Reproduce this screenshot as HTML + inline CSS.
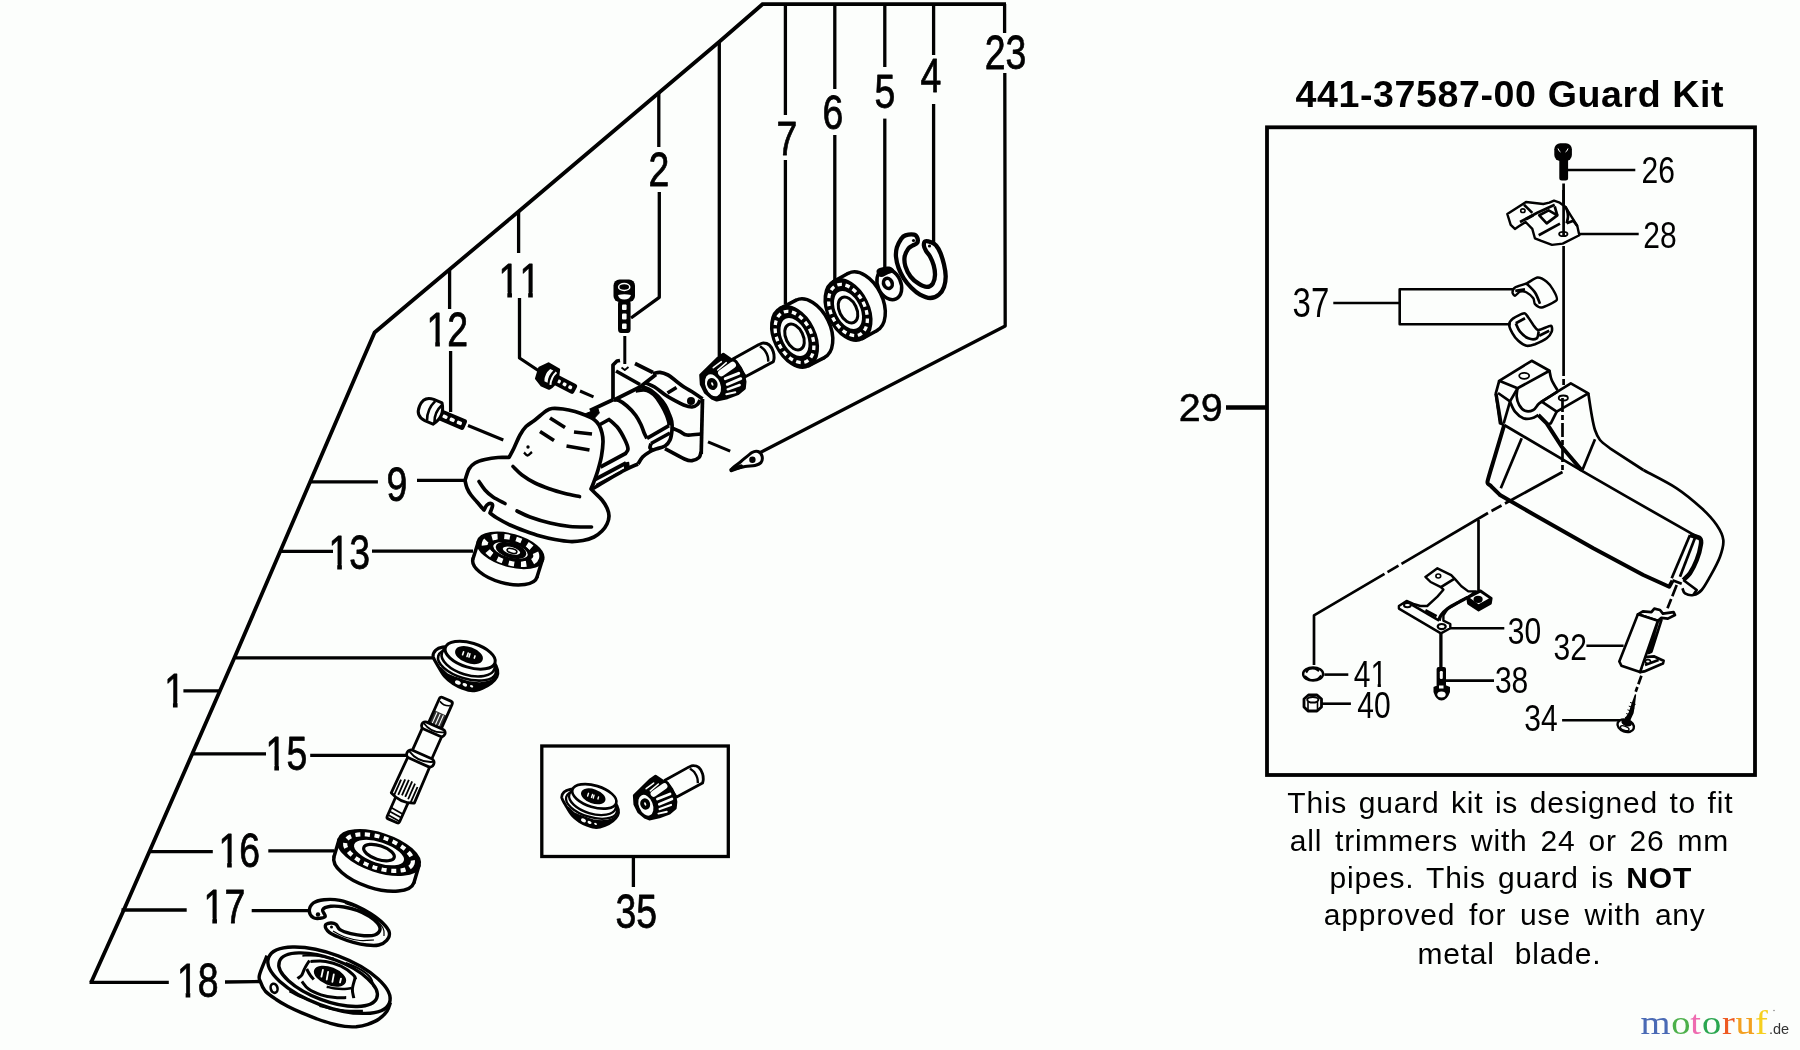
<!DOCTYPE html>
<html><head><meta charset="utf-8"><title>Guard Kit parts diagram</title>
<style>html,body{margin:0;padding:0;background:#fcfefc}svg{display:block;will-change:transform;opacity:0.9999}</style></head>
<body><svg width="1800" height="1050" viewBox="0 0 1800 1050" stroke-linecap="butt" stroke-linejoin="round">
<rect width="1800" height="1050" fill="#fcfefc"/>
<path d="M91.2 982.3 L124 909.5 L234.3 658 L362.6 360 L374.6 332.5 L413.7 299.5 L518.6 211.5 L658.6 93 L719 42 L762.5 4.2 L1006 4.2" fill="none" stroke="#000" stroke-width="3.8" stroke-linejoin="miter"/>
<line x1="89.5" y1="982.3" x2="168.8" y2="982.3" stroke="#000" stroke-width="3.3" />
<line x1="1004.6" y1="4" x2="1004.6" y2="33" stroke="#000" stroke-width="3.3" />
<path d="M1004.8 73 L1005.2 326 L760.4 452.4" fill="none" stroke="#000" stroke-width="3.3" />
<line x1="785.4" y1="4" x2="785.4" y2="115" stroke="#000" stroke-width="3.3" />
<line x1="785.4" y1="160" x2="785.4" y2="304" stroke="#000" stroke-width="3.3" />
<line x1="834.8" y1="4" x2="834.8" y2="89" stroke="#000" stroke-width="3.3" />
<line x1="834.8" y1="135" x2="834.8" y2="280" stroke="#000" stroke-width="3.3" />
<line x1="884.8" y1="4" x2="884.8" y2="67" stroke="#000" stroke-width="3.3" />
<line x1="884.8" y1="118.6" x2="884.8" y2="270" stroke="#000" stroke-width="3.3" />
<line x1="933.6" y1="4" x2="933.6" y2="55" stroke="#000" stroke-width="3.3" />
<line x1="933.6" y1="104" x2="933.6" y2="244" stroke="#000" stroke-width="3.3" />
<line x1="719.3" y1="42" x2="719.3" y2="356" stroke="#000" stroke-width="3.3" />
<line x1="658.8" y1="92" x2="658.8" y2="147" stroke="#000" stroke-width="3.3" />
<path d="M659.3 192 L659.3 297.3 L631 318" fill="none" stroke="#000" stroke-width="3.3" />
<line x1="518.6" y1="211" x2="518.6" y2="253" stroke="#000" stroke-width="3.3" />
<path d="M519.5 298 L519.5 358 L539 371" fill="none" stroke="#000" stroke-width="3.3" />
<line x1="449.6" y1="269" x2="449.6" y2="309" stroke="#000" stroke-width="3.3" />
<line x1="450.6" y1="351" x2="450.6" y2="412" stroke="#000" stroke-width="3.3" />
<line x1="310.7" y1="481.9" x2="377.9" y2="481.9" stroke="#000" stroke-width="3.3" />
<line x1="417" y1="480.4" x2="465" y2="480.4" stroke="#000" stroke-width="3.3" />
<line x1="280" y1="551.4" x2="333" y2="551.4" stroke="#000" stroke-width="3.3" />
<line x1="372" y1="551.2" x2="473" y2="551.2" stroke="#000" stroke-width="3.3" />
<line x1="235.5" y1="657.8" x2="433.5" y2="657.8" stroke="#000" stroke-width="3.3" />
<line x1="183.4" y1="690.9" x2="219" y2="690.9" stroke="#000" stroke-width="3.3" />
<line x1="192.5" y1="753.8" x2="266" y2="753.8" stroke="#000" stroke-width="3.3" />
<line x1="310.2" y1="755.3" x2="406.6" y2="755.3" stroke="#000" stroke-width="3.3" />
<line x1="148.5" y1="851.6" x2="212.8" y2="851.6" stroke="#000" stroke-width="3.3" />
<line x1="268.3" y1="850.8" x2="334.3" y2="850.8" stroke="#000" stroke-width="3.3" />
<line x1="121.5" y1="910" x2="186.7" y2="910" stroke="#000" stroke-width="3.3" />
<line x1="251.7" y1="910.7" x2="310" y2="910.7" stroke="#000" stroke-width="3.3" />
<line x1="225" y1="982" x2="260" y2="981.5" stroke="#000" stroke-width="3.3" />
<rect x="541.8" y="746" width="186.5" height="110.5" fill="none" stroke="#000" stroke-width="3.3" stroke-linejoin="miter"/>
<line x1="633.4" y1="857" x2="633.4" y2="887" stroke="#000" stroke-width="3.3" />
<ellipse cx="810" cy="329" rx="20" ry="32" transform="rotate(-26 810 329)" fill="#fcfefc" stroke="#000" stroke-width="3.5" />
<path d="M808.8 365.6 L824.3 357.6 L795.7 300.4 L780.2 308.4Z" fill="#fcfefc" stroke="none"/>
<line x1="808.8" y1="365.6" x2="824.3" y2="357.6" stroke="#000" stroke-width="3.5" stroke-linecap="round"/>
<line x1="780.2" y1="308.4" x2="795.7" y2="300.4" stroke="#000" stroke-width="3.5" stroke-linecap="round"/>
<ellipse cx="794.5" cy="337" rx="20" ry="32" transform="rotate(-26 794.5 337)" fill="#000" stroke="#000" stroke-width="3.5" />
<ellipse cx="794.5" cy="337" rx="17" ry="27.2" transform="rotate(-26 794.5 337)" fill="none" stroke="#fcfefc" stroke-width="3.3" stroke-dasharray="4.6 3.6" stroke-linecap="butt"/>
<ellipse cx="794.5" cy="337" rx="13.6" ry="21.8" transform="rotate(-26 794.5 337)" fill="#fcfefc" stroke="#000" stroke-width="3" />
<ellipse cx="794.5" cy="337" rx="8.6" ry="13.8" transform="rotate(-26 794.5 337)" fill="#fcfefc" stroke="#000" stroke-width="3" />
<ellipse cx="862.5" cy="302" rx="20" ry="32" transform="rotate(-26 862.5 302)" fill="#fcfefc" stroke="#000" stroke-width="3.5" />
<path d="M862.6 338.5 L877.1 330.5 L847.9 273.5 L833.4 281.5Z" fill="#fcfefc" stroke="none"/>
<line x1="862.6" y1="338.5" x2="877.1" y2="330.5" stroke="#000" stroke-width="3.5" stroke-linecap="round"/>
<line x1="833.4" y1="281.5" x2="847.9" y2="273.5" stroke="#000" stroke-width="3.5" stroke-linecap="round"/>
<ellipse cx="848" cy="310" rx="20" ry="32" transform="rotate(-26 848 310)" fill="#000" stroke="#000" stroke-width="3.5" />
<ellipse cx="848" cy="310" rx="17" ry="27.2" transform="rotate(-26 848 310)" fill="none" stroke="#fcfefc" stroke-width="3.3" stroke-dasharray="4.6 3.6" stroke-linecap="butt"/>
<ellipse cx="848" cy="310" rx="13.6" ry="21.8" transform="rotate(-26 848 310)" fill="#fcfefc" stroke="#000" stroke-width="3" />
<ellipse cx="848" cy="310" rx="8.6" ry="13.8" transform="rotate(-26 848 310)" fill="#fcfefc" stroke="#000" stroke-width="3" />
<ellipse cx="505" cy="567.9" rx="33.3" ry="15" transform="rotate(15.7 505 567.9)" fill="#fcfefc" stroke="#000" stroke-width="3.5" />
<path d="M542.5 559.6 L537 577.1 L473 558.7 L478.5 541.2Z" fill="#fcfefc" stroke="none"/>
<line x1="542.5" y1="559.6" x2="537" y2="577.1" stroke="#000" stroke-width="3.5" stroke-linecap="round"/>
<line x1="478.5" y1="541.2" x2="473" y2="558.7" stroke="#000" stroke-width="3.5" stroke-linecap="round"/>
<ellipse cx="510.5" cy="550.4" rx="33.3" ry="15" transform="rotate(15.7 510.5 550.4)" fill="#000" stroke="#000" stroke-width="3.5" />
<ellipse cx="510.5" cy="550.4" rx="26.6" ry="12" transform="rotate(15.7 510.5 550.4)" fill="none" stroke="#fcfefc" stroke-width="6" stroke-dasharray="5.5 6.5" stroke-linecap="butt"/>
<ellipse cx="510.5" cy="550.4" rx="19.3" ry="8.7" transform="rotate(15.7 510.5 550.4)" fill="#fcfefc" stroke="#000" stroke-width="3" />
<ellipse cx="510.5" cy="550.4" rx="11.3" ry="5.1" transform="rotate(15.7 510.5 550.4)" fill="#fcfefc" stroke="#000" stroke-width="3" />
<ellipse cx="511" cy="550.4" rx="14.7" ry="6.6" transform="rotate(15.7 511 550.4)" fill="#000" stroke="#000" stroke-width="2" />
<ellipse cx="511.5" cy="550.7" rx="9.7" ry="4.3" transform="rotate(15.7 511.5 550.7)" fill="#fcfefc" stroke="#000" stroke-width="1.5" />
<ellipse cx="512" cy="550.9" rx="5" ry="2.2" transform="rotate(15.7 512 550.9)" fill="#fcfefc" stroke="#000" stroke-width="1.6" />
<ellipse cx="374" cy="869.6" rx="42" ry="18.2" transform="rotate(18.2 374 869.6)" fill="#fcfefc" stroke="#000" stroke-width="3.5" />
<path d="M339 839.7 L334 856.7 L414 882.5 L419 865.5Z" fill="#fcfefc" stroke="none"/>
<line x1="339" y1="839.7" x2="334" y2="856.7" stroke="#000" stroke-width="3.5" stroke-linecap="round"/>
<line x1="419" y1="865.5" x2="414" y2="882.5" stroke="#000" stroke-width="3.5" stroke-linecap="round"/>
<ellipse cx="379" cy="852.6" rx="42" ry="18.2" transform="rotate(18.2 379 852.6)" fill="#000" stroke="#000" stroke-width="3.5" />
<ellipse cx="379" cy="852.6" rx="35.3" ry="15.3" transform="rotate(18.2 379 852.6)" fill="none" stroke="#fcfefc" stroke-width="4.2" stroke-dasharray="5 4.5" stroke-linecap="butt"/>
<ellipse cx="379" cy="852.6" rx="27.7" ry="12" transform="rotate(18.2 379 852.6)" fill="#fcfefc" stroke="#000" stroke-width="3.2" />
<ellipse cx="379" cy="852.6" rx="16" ry="6.9" transform="rotate(18.2 379 852.6)" fill="#fcfefc" stroke="#000" stroke-width="3.2" />
<path d="M905.4 235.4 C907.5 234.7 912 234.2 914 234.6 C916 235 916.9 236.6 917.4 238 C917.9 239.4 917.9 241.8 917 243.1 C916.1 244.4 913.8 244.7 912.3 245.7 C910.8 246.7 909.3 247.2 908 249.1 C906.7 251 905 254 904.6 256.9 C904.2 259.8 904.4 263 905.4 266.3 C906.4 269.6 908.5 273.8 910.6 276.6 C912.8 279.5 915.6 281.7 918.3 283.4 C921 285.1 924.5 286.9 926.9 286.9 C929.3 286.9 931.5 285.4 932.9 283.4 C934.2 281.4 934.9 277.9 935 274.9 C935.1 271.9 934.5 268.4 933.7 265.4 C932.9 262.4 931.6 259.3 930.3 256.9 C929 254.5 927.1 252.8 926 250.9 C924.9 249 924 247.3 923.9 245.7 C923.8 244.1 923.9 242 925.1 241.4 C926.3 240.8 929.2 241.6 931.1 242.3 C933 243 934.7 243.8 936.3 245.7 C937.9 247.5 939.3 250.2 940.6 253.4 C941.9 256.6 943.1 260.7 944 264.6 C944.9 268.5 945.7 272.9 945.7 276.6 C945.7 280.3 945.1 283.9 944 286.9 C942.9 289.9 941.2 292.8 938.9 294.6 C936.6 296.5 933.4 298 930.3 298 C927.1 298 923.1 296.3 920 294.6 C916.9 292.9 914.1 290.4 911.4 287.7 C908.7 285 905.8 281.6 903.7 278.3 C901.6 275 899.9 271.6 898.6 268 C897.3 264.4 896.3 260.3 896 256.9 C895.7 253.5 896 250.4 896.9 247.4 C897.8 244.4 899.7 240.9 901.1 238.9 C902.5 236.9 903.2 236.1 905.4 235.4Z" fill="#fcfefc" stroke="#000" stroke-width="4.3" />
<circle cx="913.5" cy="240.5" r="1.6" fill="#000"/><circle cx="929.5" cy="246" r="1.6" fill="#000"/>
<ellipse cx="889.3" cy="284.3" rx="11.5" ry="16" transform="rotate(-25 889.3 284.3)" fill="#fcfefc" stroke="#000" stroke-width="3.5" />
<path d="M877.5 272 C877.3 270.8 878.1 269.8 880 269 C881.9 268.2 886.8 267.2 889 267.5 C891.2 267.8 893.7 270.1 893.5 271 C893.3 271.9 890.1 272.2 888 273 C885.9 273.8 882.8 276.2 881 276 C879.2 275.8 877.7 273.2 877.5 272Z" fill="#000" stroke="#000" stroke-width="2" />
<ellipse cx="887.9" cy="283.4" rx="4.2" ry="5.2" transform="rotate(-25 887.9 283.4)" fill="#fcfefc" stroke="#000" stroke-width="3.6" />
<g>
<path d="M733.3 358.7 L758 345 L758 345 C758.9 344.7 761.4 343.1 763.3 343.1 C765.2 343.1 767.7 343.6 769.3 345 C771 346.4 772.5 349.6 773.3 351.7 C774.1 353.8 774.1 356 774.1 357.7 C774.1 359.3 773.5 361 773.3 361.7 L745.3 376.7 Z" fill="#fcfefc" stroke="#000" stroke-width="3" />
<path d="M760 346.3 C760.8 347 763.4 348.7 764.7 350.3 C765.9 352 767.1 354.4 767.7 356.3 C768.3 358.2 768.2 360.8 768.3 361.7" fill="none" stroke="#000" stroke-width="2.5" />
<path d="M700.7 375 L718 358 L723.3 354.3 L731.3 359.7 L736 361.7 L740.7 368.3 L743.7 375 L745 381.7 L744.3 388.3 L738 393.7 L727.3 397.7 L716.7 400 L712 398 L705.3 392.3 L701.3 384.3Z" fill="#000" stroke="#000" stroke-width="3" stroke-linejoin="round"/>
<line x1="713.3" y1="367.7" x2="721.3" y2="361.7" stroke="#fcfefc" stroke-width="1.6" stroke-linecap="round"/>
<line x1="717.7" y1="370" x2="726.3" y2="362.7" stroke="#fcfefc" stroke-width="1.6" stroke-linecap="round"/>
<line x1="721.3" y1="373" x2="732.7" y2="365" stroke="#fcfefc" stroke-width="6.5" stroke-linecap="round"/>
<line x1="725.3" y1="378.7" x2="738.7" y2="373.3" stroke="#fcfefc" stroke-width="3" stroke-linecap="round"/>
<line x1="727.3" y1="384.3" x2="740.7" y2="378.7" stroke="#fcfefc" stroke-width="3" stroke-linecap="round"/>
<line x1="727.7" y1="389.3" x2="739.7" y2="385" stroke="#fcfefc" stroke-width="2.4" stroke-linecap="round"/>
<line x1="726.3" y1="394.2" x2="735.3" y2="392.2" stroke="#fcfefc" stroke-width="2" stroke-linecap="round"/>
<ellipse cx="713" cy="385.3" rx="8.6" ry="12.8" transform="rotate(-22 713 385.3)" fill="#fcfefc" stroke="#000" stroke-width="2.5" />
<ellipse cx="712.3" cy="384" rx="3.1" ry="4" transform="rotate(-22 712.3 384)" fill="#fcfefc" stroke="#000" stroke-width="4.2" />
</g>
<path d="M732 469 C731.3 468.2 737.7 464.2 741 461.5 C744.3 458.8 749.2 454.2 752 452.5 C754.8 450.8 756.3 450.9 758 451.5 C759.7 452.1 761.5 454.2 762 456 C762.5 457.8 762.2 460.9 761 462.5 C759.8 464.1 757.7 464.8 755 465.5 C752.3 466.2 748.8 465.9 745 466.5 C741.2 467.1 732.7 469.8 732 469Z" fill="#fcfefc" stroke="#000" stroke-width="3" />
<path d="M731.5 470 L741 466.5" fill="none" stroke="#000" stroke-width="4.5" stroke-linecap="round"/>
<circle cx="752.4" cy="459.8" r="3.2" fill="#000"/>
<g transform="translate(421 406.5) rotate(23.1)">
<rect x="20" y="-5.6" width="28.4" height="11.2" rx="2.5" fill="#000"/>
<rect x="23.5" y="-1.8" width="5.2" height="3.6" rx="1.2" fill="#fcfefc"/>
<rect x="31.3" y="-1.8" width="5.2" height="3.6" rx="1.2" fill="#fcfefc"/>
<rect x="39.1" y="-1.8" width="5.2" height="3.6" rx="1.2" fill="#fcfefc"/>
<path d="M9 -11.5 Q-1.5 -11 -1.5 0 Q-1.5 11 9 11.5 L18 11.5 Q22 6 22 0 Q22 -6 18 -11.5Z" fill="#fcfefc" stroke="#000" stroke-width="3"/>
<path d="M11 -10.5 Q6.5 0 11 10.5" fill="none" stroke="#000" stroke-width="2.6"/>
<path d="M18.5 -9 Q14.5 0 18.5 9" fill="none" stroke="#000" stroke-width="2.6"/>
</g>
<line x1="468" y1="425.5" x2="503.3" y2="440" stroke="#000" stroke-width="3" />
<g transform="translate(539 371) rotate(27.5)">
<rect x="17" y="-5.4" width="24.1" height="10.8" rx="2.5" fill="#000"/>
<rect x="20.5" y="-1.8" width="3.8" height="3.6" rx="1.2" fill="#fcfefc"/>
<rect x="26.9" y="-1.8" width="3.8" height="3.6" rx="1.2" fill="#fcfefc"/>
<rect x="33.3" y="-1.8" width="3.8" height="3.6" rx="1.2" fill="#fcfefc"/>
<path d="M5 -11 L-1 -3 L1 8 L9 11.5 L17 11 Q21 5 20 -2 L17 -10.5 Z" fill="#000" stroke="#000" stroke-width="2.5"/>
<path d="M9 -7 Q6 0 9.5 6.5 L13 6.5 Q10 0 12.5 -7Z" fill="#fcfefc"/>
<path d="M16 -7 Q13.5 0 16.5 7" fill="none" stroke="#fcfefc" stroke-width="2"/>
</g>
<line x1="580" y1="391" x2="593.5" y2="396.8" stroke="#000" stroke-width="3" />
<g transform="translate(-24.361999999999853 443.058) scale(0.94)">
<g>
<path d="M733.3 358.7 L758 345 L758 345 C758.9 344.7 761.4 343.1 763.3 343.1 C765.2 343.1 767.7 343.6 769.3 345 C771 346.4 772.5 349.6 773.3 351.7 C774.1 353.8 774.1 356 774.1 357.7 C774.1 359.3 773.5 361 773.3 361.7 L745.3 376.7 Z" fill="#fcfefc" stroke="#000" stroke-width="3" />
<path d="M760 346.3 C760.8 347 763.4 348.7 764.7 350.3 C765.9 352 767.1 354.4 767.7 356.3 C768.3 358.2 768.2 360.8 768.3 361.7" fill="none" stroke="#000" stroke-width="2.5" />
<path d="M700.7 375 L718 358 L723.3 354.3 L731.3 359.7 L736 361.7 L740.7 368.3 L743.7 375 L745 381.7 L744.3 388.3 L738 393.7 L727.3 397.7 L716.7 400 L712 398 L705.3 392.3 L701.3 384.3Z" fill="#000" stroke="#000" stroke-width="3" stroke-linejoin="round"/>
<line x1="713.3" y1="367.7" x2="721.3" y2="361.7" stroke="#fcfefc" stroke-width="1.6" stroke-linecap="round"/>
<line x1="717.7" y1="370" x2="726.3" y2="362.7" stroke="#fcfefc" stroke-width="1.6" stroke-linecap="round"/>
<line x1="721.3" y1="373" x2="732.7" y2="365" stroke="#fcfefc" stroke-width="6.5" stroke-linecap="round"/>
<line x1="725.3" y1="378.7" x2="738.7" y2="373.3" stroke="#fcfefc" stroke-width="3" stroke-linecap="round"/>
<line x1="727.3" y1="384.3" x2="740.7" y2="378.7" stroke="#fcfefc" stroke-width="3" stroke-linecap="round"/>
<line x1="727.7" y1="389.3" x2="739.7" y2="385" stroke="#fcfefc" stroke-width="2.4" stroke-linecap="round"/>
<line x1="726.3" y1="394.2" x2="735.3" y2="392.2" stroke="#fcfefc" stroke-width="2" stroke-linecap="round"/>
<ellipse cx="713" cy="385.3" rx="8.6" ry="12.8" transform="rotate(-22 713 385.3)" fill="#fcfefc" stroke="#000" stroke-width="2.5" />
<ellipse cx="712.3" cy="384" rx="3.1" ry="4" transform="rotate(-22 712.3 384)" fill="#fcfefc" stroke="#000" stroke-width="4.2" />
</g>
</g>
<path d="M613 365 L617 361 L620 360.5 L653 373 L660 372.5 L668 375 L676 381 L684 387 L694 393 L702.5 399 L701 454 L699 459 L690 461 L683 460 L662 450 L640 440 L613 400Z" fill="#fcfefc" stroke="none" stroke-width="0" />
<path d="M620 360.5 L617 361 L613 365 L613 399.5" fill="none" stroke="#000" stroke-width="3.7" />
<path d="M616 371 L640 384.5" fill="none" stroke="#000" stroke-width="3.7" />
<path d="M614 400 L640 387 L656 374.5" fill="none" stroke="#000" stroke-width="3.7" />
<path d="M635 363.5 L653 372.5" fill="none" stroke="#000" stroke-width="3.7" />
<path d="M653 373.5 C654.2 373.3 657.5 372.1 660 372.3 C662.5 372.6 665.3 373.6 668 375 C670.7 376.4 673.3 379 676 381 C678.7 383 681 385 684 387 C687 389 690.9 391 694 393 C697.1 395 701.1 398 702.5 399" fill="none" stroke="#000" stroke-width="3.7" />
<path d="M702.5 399 L701.2 454" fill="none" stroke="#000" stroke-width="3.7" />
<path d="M646 383 C647.4 383.7 651.4 385.1 654.6 387 C657.8 388.9 661.6 392.4 665 394.7 C668.4 397 671.9 399 675 400.7 C678.1 402.4 680.9 403.9 683.7 405 C686.5 406.1 689.7 407.1 692 407 C694.3 406.9 696.1 405.7 697.4 404.5 C698.7 403.3 699.6 400.8 700 400" fill="none" stroke="#000" stroke-width="3.7" />
<path d="M667.5 393 L676.5 387.5" fill="none" stroke="#000" stroke-width="3.7" />
<circle cx="691" cy="401" r="4" fill="#000"/>
<path d="M665 448.7 C668.2 450.4 680 457 684.5 459 C689 461 689.6 460.9 692 460.7 C694.4 460.4 697.5 458.9 699 457.5 C700.5 456.1 700.7 452.9 701 452" fill="none" stroke="#000" stroke-width="3.7" />
<path d="M671.7 428 C673.1 428.6 677.5 430.3 680 431.5 C682.5 432.7 683.5 434.6 687 435 C690.5 435.4 698.7 434.2 701 434" fill="none" stroke="#000" stroke-width="3.7" />
<path d="M614 400 C614.8 400.1 616.4 399.3 618.6 400.3 C620.8 401.3 624.1 403.5 627 406 C629.9 408.5 633.4 412.2 635.7 415.3 C638 418.4 639.6 421.7 641 424.7 C642.4 427.7 643.3 431 644.3 433.3 C645.3 435.6 646.5 437.5 647 438.4" fill="none" stroke="#000" stroke-width="3.7" />
<path d="M647 438.4 L669 425.6" fill="none" stroke="#000" stroke-width="3.7" />
<path d="M635.7 391 C637.1 390.8 641.6 389.8 644 390 C646.4 390.2 648 390.8 650 392 C652 393.2 654 394.7 656 397 C658 399.3 660.2 403 662 406 C663.8 409 665.4 412.4 666.5 415 C667.6 417.6 668.2 419.9 668.7 421.7 C669.2 423.5 669.1 425 669.2 425.6" fill="none" stroke="#000" stroke-width="3.7" />
<path d="M640 386.5 C641 386.8 644.2 387.4 646 388 C647.8 388.6 649 389 651 390.4 C653 391.8 655.7 394 658 396.4 C660.3 398.8 663.2 402.1 665 405 C666.8 407.9 667.9 410.9 669 413.6 C670.1 416.3 671.2 418.6 671.7 421.3 C672.2 424 672.3 426.9 672 430 C671.7 433.1 671.2 437.3 670 440 C668.8 442.7 667.6 444.4 665 446 C662.4 447.6 657.2 448.5 654.6 449.5 C652 450.5 651.4 450.8 649.4 452 C647.4 453.2 644.5 455 642.6 457 C640.7 459 638.8 462.8 638 464" fill="none" stroke="#000" stroke-width="3.7" />
<path d="M651 443.5 L670 433" fill="none" stroke="#000" stroke-width="3.7" />
<path d="M651 443.5 C650.8 444.2 649.7 446.9 650 448 C650.3 449.1 652.5 449.7 653 450" fill="none" stroke="#000" stroke-width="3.7" />
<path d="M595 479.5 L626 463" fill="none" stroke="#000" stroke-width="3.7" />
<path d="M593 488.5 C598.2 485.5 616.5 474.6 624 470.5 C631.5 466.4 635.7 465.1 638 464" fill="none" stroke="#000" stroke-width="3.7" />
<path d="M596 484.5 L624 469.5" fill="none" stroke="#000" stroke-width="1.2" />
<path d="M624 463.5 L628.5 462.5 L629 467 L625 469Z" fill="#000" stroke="#000" stroke-width="1.5" />
<path d="M590 410.5 L613.5 399.5" fill="none" stroke="#000" stroke-width="3.7" />
<path d="M600 424.5 L609 419.5 609 419.5 C610.5 420.9 615.3 424.6 618 428 C620.7 431.4 623.3 436.5 625 440 C626.7 443.5 627.9 446.8 628 449 C628.1 451.2 625.9 452.8 625.5 453.5 L600.5 467" fill="none" stroke="#000" stroke-width="3.7" />
<path d="M465 480.5 C465.7 478.6 467.3 471.9 469 469 C470.7 466.1 472.3 464.6 475 463 C477.7 461.4 481.2 460.4 485 459.5 C488.8 458.6 494 457.8 498 457.5 C502 457.2 507.2 457.5 509 457.5 C509.8 455.9 512.2 451.8 514 448 C515.8 444.2 518 438.6 520 435 C522 431.4 523.5 429 526 426.5 C528.5 424 531.7 422.6 535 420 C538.3 417.4 543.2 412.9 546 411 C548.8 409.1 549.2 408.8 552 408.5 C554.8 408.2 559.2 408.5 563 409 C566.8 409.5 571.3 410.5 575 411.5 C578.7 412.5 581.8 413.7 585 415 C588.2 416.3 591.7 417.8 594 419.5 C596.3 421.2 597.7 422.8 599 425 C600.3 427.2 601.3 430.2 602 433 C602.7 435.8 603.1 438.2 603 442 C602.9 445.8 602.3 451.3 601.5 456 C600.7 460.7 599.3 465.5 598 470 C596.7 474.5 594.7 479.8 593.5 483 C592.3 486.2 591.4 488 591 489 C591.7 489.7 593.2 491.2 595 493 C596.8 494.8 600 497.5 602 500 C604 502.5 605.8 505.3 607 508 C608.2 510.7 609 513.3 609 516 C609 518.7 608.2 521.5 607 524 C605.8 526.5 604.2 528.8 602 531 C599.8 533.2 597.2 535.4 594 537 C590.8 538.6 587 539.8 583 540.5 C579 541.2 574.7 541.7 570 541.5 C565.3 541.3 560 540.4 555 539.5 C550 538.6 545 537.4 540 536 C535 534.6 530 532.8 525 531 C520 529.2 514.7 527.2 510 525 C505.3 522.8 500.3 520 497 518 C493.7 516 491.2 513.8 490 513 C490.4 511.8 492.3 507.6 492.5 506 C492.7 504.4 491.9 503.7 491 503.5 C490.1 503.3 488.2 503.9 487 505 C485.8 506.1 484.5 509.2 484 510 C482.8 508.7 479.2 504.5 477 502 C474.8 499.5 472.7 497.3 471 495 C469.3 492.7 468 490.4 467 488 C466 485.6 465.3 481.8 465 480.5Z" fill="#fcfefc" stroke="#000" stroke-width="3.7" />
<path d="M513 466.5 C514.5 467.9 518.3 472.2 522 475 C525.7 477.8 530.3 480.7 535 483 C539.7 485.3 545 487.2 550 489 C555 490.8 560.1 492.2 565 493.5 C569.9 494.8 577.1 496 579.5 496.5" fill="none" stroke="#000" stroke-width="3.7" stroke-linecap="round"/>
<path d="M479 481.5 C480 482.9 482.7 487.4 485 490 C487.3 492.6 489.7 494.8 493 497 C496.3 499.2 503 502.4 505 503.5" fill="none" stroke="#000" stroke-width="3.7" stroke-linecap="round"/>
<path d="M517 511 C519.2 512 524.5 515 530 517 C535.5 519 543.3 521.4 550 523 C556.7 524.6 563.1 525.8 570 526.5 C576.9 527.2 587.9 526.9 591.5 527" fill="none" stroke="#000" stroke-width="3.7" stroke-linecap="round"/>
<path d="M550 418 L565 427.5" fill="none" stroke="#000" stroke-width="3.7" />
<path d="M540 431.5 L554 440.5" fill="none" stroke="#000" stroke-width="3.7" />
<path d="M574 432 L592 434" fill="none" stroke="#000" stroke-width="3.7" />
<path d="M566.5 446 L589.5 450" fill="none" stroke="#000" stroke-width="3.7" />
<path d="M524 452.5 C524.6 453 526.2 455.6 527.5 455.5 C528.8 455.4 531.2 452.6 532 452" fill="none" stroke="#000" stroke-width="2.4" />
<circle cx="528" cy="447" r="1.7" fill="#000"/>
<path d="M584 414.3 L598 408.7 L599.3 413 L594 418.7Z" fill="#000" stroke="#000" stroke-width="1" />
<line x1="708" y1="441.8" x2="730.2" y2="451.1" stroke="#000" stroke-width="3" />
<rect x="613.5" y="279.5" width="21.5" height="22.5" rx="6" ry="6" fill="#000"/>
<ellipse cx="624.2" cy="287" rx="5.6" ry="3.5" transform="rotate(0 624.2 287)" fill="#000" stroke="#fcfefc" stroke-width="1.5" />
<path d="M618 295 Q624.3 293.5 631 295 Q629.5 299.5 624.3 299.5 Q619 299.5 618 295Z" fill="#fcfefc" stroke="none" stroke-width="0" />
<rect x="618" y="300" width="12.6" height="33" rx="3" ry="4" fill="#000"/>
<rect x="622" y="304.5" width="4.6" height="5.5" rx="1" fill="#fcfefc"/>
<rect x="622" y="313.5" width="4.6" height="6" rx="1" fill="#fcfefc"/>
<rect x="622" y="323.5" width="4.6" height="5.5" rx="1" fill="#fcfefc"/>
<line x1="624.8" y1="336" x2="624.8" y2="364" stroke="#000" stroke-width="3" />
<path d="M621.5 367.5 L624.8 370 L628.5 367" fill="none" stroke="#000" stroke-width="1.8" />
<path d="M433.1 656.2 C432.8 653.6 434.2 651.7 435.8 650.1 C437.4 648.6 439.7 647.7 442.7 647.1 C445.6 646.5 449 646.1 453.3 646.3 C457.7 646.6 463.5 647.2 468.6 648.6 C473.7 650 479.6 652.4 483.8 654.7 C488 657 491.4 659.8 493.7 662.3 C496 664.9 497 667.5 497.5 670 C498 672.4 497.8 674.7 496.8 676.8 C495.7 679 493.8 681 491.4 682.9 C489 684.8 485.5 686.9 482.3 688.2 C479.1 689.5 475.7 690.7 472.4 690.7 C469.1 690.7 465.7 689.4 462.5 688.2 C459.3 687.1 456.3 685.6 453.3 683.7 C450.4 681.8 447.5 679.7 445 676.8 C442.4 673.9 440.1 669.6 438.1 666.1 C436.1 662.7 433.5 658.9 433.1 656.2Z" fill="#fcfefc" stroke="#000" stroke-width="3.2" />
<path d="M440.4 667.7 C440.8 667.2 444.3 672 447.2 673.8 C450.2 675.5 454.3 677 457.9 678.3 C461.5 679.7 464.9 681 468.6 681.8 C472.3 682.5 476.4 683 480 682.9 C483.6 682.8 487.2 682 489.9 681 C492.6 680 496.1 676.5 496.4 676.8 C496.6 677.1 493.8 681 491.4 682.9 C489.1 684.8 485.5 686.9 482.3 688.2 C479.1 689.5 475.7 690.7 472.4 690.7 C469.1 690.7 465.7 689.4 462.5 688.2 C459.3 687.1 456.3 685.6 453.3 683.7 C450.4 681.8 447.1 679.5 445 676.8 C442.8 674.1 440 668.2 440.4 667.7Z" fill="#000" stroke="#000" stroke-width="1.5" />
<ellipse cx="457.9" cy="682.5" rx="3" ry="2" transform="rotate(25 457.9 682.5)" fill="#fcfefc" stroke="none" stroke-width="0" />
<ellipse cx="464.8" cy="684.8" rx="2.4" ry="1.6" transform="rotate(25 464.8 684.8)" fill="#fcfefc" stroke="none" stroke-width="0" />
<ellipse cx="471.6" cy="686.3" rx="1.7" ry="1.1" transform="rotate(25 471.6 686.3)" fill="#fcfefc" stroke="none" stroke-width="0" />
<ellipse cx="467" cy="664.6" rx="30" ry="14" transform="rotate(17 467 664.6)" fill="#fcfefc" stroke="#000" stroke-width="2.6" />
<ellipse cx="468.2" cy="660.8" rx="27.5" ry="14" transform="rotate(17 468.2 660.8)" fill="#fcfefc" stroke="#000" stroke-width="2.6" />
<ellipse cx="470.2" cy="655.2" rx="26" ry="12.2" transform="rotate(17 470.2 655.2)" fill="#fcfefc" stroke="#000" stroke-width="3" />
<ellipse cx="469" cy="655.1" rx="13.5" ry="7" transform="rotate(20 469 655.1)" fill="#000" stroke="#000" stroke-width="2" />
<line x1="463.6" y1="651.7" x2="462.6" y2="654.7" stroke="#fcfefc" stroke-width="1.6" stroke-linecap="round"/>
<line x1="468.2" y1="653" x2="467" y2="656.4" stroke="#fcfefc" stroke-width="1.6" stroke-linecap="round"/>
<line x1="469.9" y1="653.8" x2="469" y2="657" stroke="#fcfefc" stroke-width="1.6" stroke-linecap="round"/>
<line x1="475" y1="655.9" x2="474.3" y2="658.1" stroke="#fcfefc" stroke-width="1.6" stroke-linecap="round"/>
<g transform="translate(446.7 699.3) rotate(24)">
<rect x="-6.8" y="108" width="13.6" height="25" rx="2" fill="#fcfefc" stroke="#000" stroke-width="2.8"/>
<line x1="-6.8" y1="121.5" x2="6.8" y2="122.7" stroke="#000" stroke-width="1.7"/>
<line x1="-6.8" y1="125.5" x2="6.8" y2="126.7" stroke="#000" stroke-width="1.7"/>
<line x1="-6.8" y1="129.5" x2="6.8" y2="130.7" stroke="#000" stroke-width="1.7"/>
<path d="M-12 68 L-12.6 108 Q0 114 12.6 108 L12 68Z" fill="#fcfefc" stroke="#000" stroke-width="2.8"/>
<line x1="-9" y1="92" x2="-9" y2="109" stroke="#000" stroke-width="1.8"/>
<line x1="-5.4" y1="90" x2="-5.4" y2="107" stroke="#000" stroke-width="1.8"/>
<line x1="-1.8" y1="89" x2="-1.8" y2="106" stroke="#000" stroke-width="1.8"/>
<line x1="1.8" y1="89" x2="1.8" y2="106" stroke="#000" stroke-width="1.8"/>
<line x1="5.4" y1="90" x2="5.4" y2="107" stroke="#000" stroke-width="1.8"/>
<line x1="9" y1="92" x2="9" y2="109" stroke="#000" stroke-width="1.8"/>
<rect x="-10.6" y="34" width="21.2" height="28" fill="#fcfefc" stroke="#000" stroke-width="2.8"/>
<rect x="-14.5" y="60.5" width="29" height="8.5" rx="4" fill="#fcfefc" stroke="#000" stroke-width="2.8"/>
<path d="M-13.5 62.5 Q0 70 13.5 62.5" fill="none" stroke="#000" stroke-width="1.8"/>
<rect x="-7" y="0" width="14" height="32" rx="2.5" fill="#fcfefc" stroke="#000" stroke-width="2.8"/>
<rect x="-6" y="15" width="12" height="15" fill="#000" opacity="0.8"/>
<line x1="-3.5" y1="16" x2="-3.5" y2="29" stroke="#fcfefc" stroke-width="1.1"/>
<line x1="0" y1="16" x2="0" y2="29" stroke="#fcfefc" stroke-width="1.1"/>
<line x1="3.5" y1="16" x2="3.5" y2="29" stroke="#fcfefc" stroke-width="1.1"/>
<path d="M-5.5 4.5 Q0 7.5 5.5 4.5" fill="none" stroke="#000" stroke-width="1.6"/>
<rect x="-12.5" y="29" width="25" height="7.5" rx="3.5" fill="#fcfefc" stroke="#000" stroke-width="2.8"/>
<path d="M-11.5 31 Q0 37.5 11.5 31" fill="none" stroke="#000" stroke-width="1.8"/>
</g>
<path d="M309.3 911 C309.3 908.5 310.9 904.9 313.3 903 C315.8 901.1 319.6 900.2 324 899.7 C328.4 899.2 334.7 899.3 340 900.3 C345.3 901.3 350.9 903.5 356 905.7 C361.1 907.9 366.2 910.8 370.7 913.7 C375.1 916.6 379.6 919.9 382.7 923 C385.8 926.1 388.6 929.4 389.3 932.3 C390 935.2 388.5 938.2 386.7 940.3 C384.9 942.4 382 944.2 378.7 945 C375.4 945.8 370.9 945.5 366.7 945 C362.5 944.5 357.8 943.5 353.3 942.3 C348.9 941.1 344 939.4 340 937.7 C336 936 331.8 934.3 329.3 932.3 C326.9 930.3 325.1 927.2 325.3 925.7 C325.5 924.2 328.9 923.2 330.7 923 C332.5 922.8 334.4 923.2 336 924.3 C337.6 925.4 337.6 928.1 340 929.7 C342.4 931.3 346.7 932.7 350.7 933.7 C354.7 934.7 360 935.5 364 935.7 C368 935.9 372 936 374.7 935 C377.4 934 379.6 931.7 380 929.7 C380.4 927.7 379.1 925.2 377.3 923 C375.5 920.8 372.6 918.4 369.3 916.3 C366 914.2 361.5 911.8 357.3 910.3 C353.1 908.8 348.4 907.7 344 907 C339.6 906.3 334.2 905.8 330.7 906.3 C327.1 906.8 323.6 908 322.7 909.7 C321.8 911.4 325.8 914.9 325.3 916.3 C324.9 917.7 322 918.1 320 918.3 C318 918.5 315.1 918.9 313.3 917.7 C311.5 916.5 309.3 913.5 309.3 911Z" fill="#fcfefc" stroke="#000" stroke-width="3.4" />
<path d="M345 903.5 C347.5 904.4 355.2 906.6 360 909 C364.8 911.4 370.2 914.8 374 918 C377.8 921.2 381.3 925 383 928 C384.7 931 383.8 934.7 384 936" fill="none" stroke="#000" stroke-width="1.2" />
<path d="M333 931 C335 932 340.5 935.4 345 937 C349.5 938.6 355.2 940 360 940.5 C364.8 941 371.7 940.1 374 940" fill="none" stroke="#000" stroke-width="1.2" />
<circle cx="318" cy="914.5" r="2.2" fill="#000"/><circle cx="331.5" cy="927" r="1.5" fill="#000"/>
<path d="M267 955.7 C265.7 958.9 260.6 970.4 259.5 974.8 C258.4 979.1 259.5 979.2 260.5 981.9 C261.4 984.6 262.6 988 265.2 991 C267.9 993.9 272.5 997 276.2 999.5 C279.9 1002.1 283.3 1004 287.6 1006.2 C291.9 1008.4 297.1 1010.8 301.9 1012.9 C306.7 1014.9 311.4 1016.8 316.2 1018.6 C321 1020.3 325.7 1022 330.5 1023.3 C335.2 1024.6 340.5 1025.8 344.8 1026.4 C349 1026.9 352.4 1027 356.2 1026.7 C360 1026.3 363.8 1025.6 367.6 1024.3 C371.4 1023 375.8 1021.3 379 1019 C382.3 1016.8 385.2 1013.7 387.1 1011 C389 1008.2 389.9 1003.8 390.5 1002.4" fill="#fcfefc" stroke="#000" stroke-width="3.4" />
<ellipse cx="329" cy="980.2" rx="64.5" ry="26" transform="rotate(20.5 329 980.2)" fill="#fcfefc" stroke="#000" stroke-width="3.4" />
<ellipse cx="274.1" cy="988.3" rx="3.4" ry="4.6" transform="rotate(-15 274.1 988.3)" fill="#fcfefc" stroke="#000" stroke-width="2.6" />
<ellipse cx="328.1" cy="979.7" rx="52" ry="21" transform="rotate(20.5 328.1 979.7)" fill="#fcfefc" stroke="#000" stroke-width="3.4" />
<path d="M302.4 955.7 C304.7 955.7 311 955.2 316.2 955.7 C321.4 956.2 330.9 958.1 333.8 958.6" fill="none" stroke="#000" stroke-width="2" />
<path d="M345.7 962.9 C347.9 963.8 354.9 966.1 359 968.6 C363.2 971 368.1 974.7 370.5 977.6 C372.9 980.6 372.9 984.8 373.3 986.2" fill="none" stroke="#000" stroke-width="2" />
<path d="M289.5 991 C291 991.7 294.8 994.2 298.1 995.7 C301.4 997.2 307.6 999.3 309.5 1000" fill="none" stroke="#000" stroke-width="2.5" />
<path d="M319.5 1005.7 C322.1 1006.3 330.2 1008.7 335.2 1009.5 C340.2 1010.4 344.9 1010.7 349.5 1011 C354.1 1011.2 360.6 1011 362.9 1011" fill="none" stroke="#000" stroke-width="2.5" />
<path d="M309.5 960.5 C308.7 961.7 306 965.7 304.8 968.1 C303.5 970.5 303.1 973 301.9 974.8 C300.7 976.5 298.3 977.9 297.6 978.6" fill="none" stroke="#000" stroke-width="3" />
<path d="M306.7 969 C307.3 970.2 309.3 974 310.5 975.7 C311.7 977.5 313.3 978.9 313.8 979.5" fill="none" stroke="#000" stroke-width="3" />
<path d="M310.5 961.4 C313 961.4 320.6 960.6 325.7 961.4 C330.8 962.2 336.3 964 341 966.2 C345.6 968.4 350.9 972.5 353.3 974.8 C355.8 977 355.3 978.7 355.7 979.5" fill="none" stroke="#000" stroke-width="3" />
<path d="M355.2 977.6 C354.8 979.5 352.6 985.6 352.4 989 C352.1 992.5 353.6 996.6 353.8 998.1" fill="none" stroke="#000" stroke-width="3" />
<path d="M301.9 981.4 C303 982.7 305.4 986.8 308.6 989 C311.7 991.3 316.5 993.3 321 994.8 C325.4 996.2 331 997.1 335.2 997.6 C339.4 998.1 344.4 997.6 346.2 997.6" fill="none" stroke="#000" stroke-width="3" />
<path d="M326.7 986.7 C328.1 987 332.2 988.2 335.2 988.6 C338.3 989 342.1 989.1 344.8 989 C347.5 989 350.3 988.3 351.4 988.1" fill="none" stroke="#000" stroke-width="2.5" />
<ellipse cx="330" cy="976.2" rx="16" ry="8" transform="rotate(22 330 976.2)" fill="#000" stroke="#000" stroke-width="2" />
<line x1="322.9" y1="970" x2="321.4" y2="976.7" stroke="#fcfefc" stroke-width="1.8" stroke-linecap="round"/>
<line x1="328.1" y1="971.9" x2="326.7" y2="979.5" stroke="#fcfefc" stroke-width="1.8" stroke-linecap="round"/>
<line x1="333.8" y1="974.3" x2="332.4" y2="981.9" stroke="#fcfefc" stroke-width="1.8" stroke-linecap="round"/>
<line x1="341" y1="978.6" x2="340" y2="982.4" stroke="#fcfefc" stroke-width="1.8" stroke-linecap="round"/>
<g transform="translate(180.53599999999994 219.82399999999996) scale(0.88)">
<path d="M433.1 656.2 C432.8 653.6 434.2 651.7 435.8 650.1 C437.4 648.6 439.7 647.7 442.7 647.1 C445.6 646.5 449 646.1 453.3 646.3 C457.7 646.6 463.5 647.2 468.6 648.6 C473.7 650 479.6 652.4 483.8 654.7 C488 657 491.4 659.8 493.7 662.3 C496 664.9 497 667.5 497.5 670 C498 672.4 497.8 674.7 496.8 676.8 C495.7 679 493.8 681 491.4 682.9 C489 684.8 485.5 686.9 482.3 688.2 C479.1 689.5 475.7 690.7 472.4 690.7 C469.1 690.7 465.7 689.4 462.5 688.2 C459.3 687.1 456.3 685.6 453.3 683.7 C450.4 681.8 447.5 679.7 445 676.8 C442.4 673.9 440.1 669.6 438.1 666.1 C436.1 662.7 433.5 658.9 433.1 656.2Z" fill="#fcfefc" stroke="#000" stroke-width="3.2" />
<path d="M440.4 667.7 C440.8 667.2 444.3 672 447.2 673.8 C450.2 675.5 454.3 677 457.9 678.3 C461.5 679.7 464.9 681 468.6 681.8 C472.3 682.5 476.4 683 480 682.9 C483.6 682.8 487.2 682 489.9 681 C492.6 680 496.1 676.5 496.4 676.8 C496.6 677.1 493.8 681 491.4 682.9 C489.1 684.8 485.5 686.9 482.3 688.2 C479.1 689.5 475.7 690.7 472.4 690.7 C469.1 690.7 465.7 689.4 462.5 688.2 C459.3 687.1 456.3 685.6 453.3 683.7 C450.4 681.8 447.1 679.5 445 676.8 C442.8 674.1 440 668.2 440.4 667.7Z" fill="#000" stroke="#000" stroke-width="1.5" />
<ellipse cx="457.9" cy="682.5" rx="3" ry="2" transform="rotate(25 457.9 682.5)" fill="#fcfefc" stroke="none" stroke-width="0" />
<ellipse cx="464.8" cy="684.8" rx="2.4" ry="1.6" transform="rotate(25 464.8 684.8)" fill="#fcfefc" stroke="none" stroke-width="0" />
<ellipse cx="471.6" cy="686.3" rx="1.7" ry="1.1" transform="rotate(25 471.6 686.3)" fill="#fcfefc" stroke="none" stroke-width="0" />
<ellipse cx="467" cy="664.6" rx="30" ry="14" transform="rotate(17 467 664.6)" fill="#fcfefc" stroke="#000" stroke-width="2.6" />
<ellipse cx="468.2" cy="660.8" rx="27.5" ry="14" transform="rotate(17 468.2 660.8)" fill="#fcfefc" stroke="#000" stroke-width="2.6" />
<ellipse cx="470.2" cy="655.2" rx="26" ry="12.2" transform="rotate(17 470.2 655.2)" fill="#fcfefc" stroke="#000" stroke-width="3" />
<ellipse cx="469" cy="655.1" rx="13.5" ry="7" transform="rotate(20 469 655.1)" fill="#000" stroke="#000" stroke-width="2" />
<line x1="463.6" y1="651.7" x2="462.6" y2="654.7" stroke="#fcfefc" stroke-width="1.6" stroke-linecap="round"/>
<line x1="468.2" y1="653" x2="467" y2="656.4" stroke="#fcfefc" stroke-width="1.6" stroke-linecap="round"/>
<line x1="469.9" y1="653.8" x2="469" y2="657" stroke="#fcfefc" stroke-width="1.6" stroke-linecap="round"/>
<line x1="475" y1="655.9" x2="474.3" y2="658.1" stroke="#fcfefc" stroke-width="1.6" stroke-linecap="round"/>
</g>
<line x1="1563.6" y1="183.5" x2="1563.6" y2="236" stroke="#000" stroke-width="2.7" />
<line x1="1563.6" y1="246" x2="1563.6" y2="388" stroke="#000" stroke-width="2.7" stroke-dasharray="130 3 6 3"/>
<rect x="1554.3" y="143.3" width="17.6" height="17.8" rx="6" fill="#000"/>
<rect x="1559.3" y="158" width="8.8" height="22.5" rx="2.5" fill="#000"/>
<path d="M1558 148.5 Q1559 151.5 1560.5 152" fill="none" stroke="#fcfefc" stroke-width="1" />
<path d="M1568 148.5 Q1567 151.5 1565.5 152" fill="none" stroke="#fcfefc" stroke-width="1" />
<path d="M1507.3 214 L1526 202 L1543.3 204 L1549.3 202.7 L1554 200.7 L1559.7 202.7 L1565.3 206.7 L1570.7 215.3 L1577.3 226 L1579.3 235.3 L1562.7 243.6 L1552 244.9 L1541.3 240.9 L1534.9 238.3 L1532.3 228.9 L1525.6 222 L1518.9 226.3 L1514.9 228.9 L1510.7 224.9Z" fill="#fcfefc" stroke="#000" stroke-width="2.4" stroke-linejoin="round"/>
<path d="M1520 222 L1537.3 212.7 L1554.7 204.7" fill="none" stroke="#000" stroke-width="2.7" />
<path d="M1524 204.7 L1532.3 212.9" fill="none" stroke="#000" stroke-width="2.7" />
<path d="M1539.3 215.3 L1548.7 210.4 L1557.3 215.3 L1546.7 223.3Z" fill="none" stroke="#000" stroke-width="2.7" />
<path d="M1554.7 206.3 L1557.3 215.3" fill="none" stroke="#000" stroke-width="2.7" />
<path d="M1538.7 235.3 L1560 223.6" fill="none" stroke="#000" stroke-width="2.7" />
<path d="M1526 219.3 L1533.3 215.3" fill="none" stroke="#000" stroke-width="2.7" />
<path d="M1566.7 223.3 L1573.3 220.7 L1577.3 226" fill="none" stroke="#000" stroke-width="2.7" />
<path d="M1565.3 206.7 C1565.7 207.4 1566.9 209.7 1567.3 211.3 C1567.8 213 1568.1 214.7 1568 216.7 C1567.9 218.7 1566.9 222.2 1566.7 223.3" fill="none" stroke="#000" stroke-width="2.7" />
<ellipse cx="1522.9" cy="210.7" rx="2.2" ry="1.8" transform="rotate(0 1522.9 210.7)" fill="#fcfefc" stroke="#000" stroke-width="1.6" />
<ellipse cx="1563.3" cy="234" rx="4.2" ry="2.2" transform="rotate(0 1563.3 234)" fill="#fcfefc" stroke="#000" stroke-width="1.8" />
<line x1="1563.6" y1="190" x2="1563.6" y2="236" stroke="#000" stroke-width="2.7" />
<path d="M1512.5 292.5 C1512.5 291.5 1513.3 288.6 1515 287.5 C1516.7 286.4 1524 284.5 1526.7 283.3 C1529.3 282.2 1535.2 277.7 1537.5 277.5 C1539.8 277.3 1544.8 280.2 1546.7 281.7 C1548.5 283.1 1552.2 287.9 1553.3 290 C1554.5 292.1 1558 298 1556.7 300 C1555.3 302 1544.2 307 1541.7 307.5 C1539.1 308 1536 305.2 1535 304.2 C1534 303.1 1534.3 299.7 1533.3 298.3 C1532.4 297 1528.2 293.3 1526.7 292.5 C1525.1 291.7 1521.4 291.3 1520 291.7 C1518.6 292.1 1515.9 295.7 1515 295.8 C1514.1 295.9 1512.5 293.5 1512.5 292.5Z" fill="#fcfefc" stroke="#000" stroke-width="2.4" />
<path d="M1526.7 283.7 C1528.1 285.1 1532.8 289.2 1535 292.5 C1537.2 295.8 1539.2 301.8 1540 303.7" fill="none" stroke="#000" stroke-width="2.7" />
<path d="M1515.3 290.8 L1525 289.3" fill="none" stroke="#000" stroke-width="2.7" />
<path d="M1509.2 324.2 C1509.3 322.4 1511.6 319.6 1513.3 318.3 C1515.1 317.1 1522.4 313.4 1524.2 313.3 C1525.9 313.2 1527.3 316.1 1528.3 317.5 C1529.4 318.9 1532.2 323.5 1533.3 325 C1534.5 326.5 1536.3 329.9 1538.3 330 C1540.4 330.1 1549.3 325.6 1550.8 325.8 C1552.4 326 1552.2 330.2 1551.7 331.7 C1551.2 333.1 1548.6 336.9 1546.7 338.3 C1544.7 339.8 1537.3 343.3 1535 344.2 C1532.7 345 1528.6 346.2 1526.7 345.8 C1524.7 345.4 1520 342.3 1518.3 340.8 C1516.7 339.4 1513.6 335.3 1512.5 333.3 C1511.4 331.4 1509.1 325.9 1509.2 324.2Z" fill="#fcfefc" stroke="#000" stroke-width="2.6" />
<path d="M1515.8 323.3 L1525 318.3" fill="none" stroke="#000" stroke-width="2.7" />
<path d="M1515.8 323.3 C1516.5 324.7 1517.9 329.2 1520 331.7 C1522.1 334.2 1525.6 337.2 1528.3 338.3 C1531.1 339.4 1534.9 339.5 1536.7 338.3 C1538.4 337.2 1538.3 332.5 1538.7 331.3" fill="none" stroke="#000" stroke-width="2.7" />
<path d="M1539.2 335.8 L1549.2 330.8" fill="none" stroke="#000" stroke-width="2.7" />
<path d="M1499.2 380.8 L1531.7 360.8 L1550 370.8 L1551.7 380 L1557.5 390 L1570.8 383.3 L1588.3 393.3 L1591.7 415 L1595 430 L1600 440 L1610 448.3 L1643.3 470 L1676.7 488.3 L1701.7 508.3 L1716.7 525 L1723.3 540 L1720 556.7 L1710 576.7 L1701.7 590 L1693.3 595 L1685 593.3 L1682.5 588.3 L1672.5 580.8 L1669.2 586.7 L1643.3 575 L1593.3 548.3 L1533.3 514.2 L1500 495 L1487.5 481.7 L1500 423.3 L1495.8 393.3Z" fill="#fcfefc" stroke="none" stroke-width="0" />
<path d="M1499.2 380.8 L1531.7 360.8 L1549.5 370.8 L1517.5 388.3Z" fill="none" stroke="#000" stroke-width="2.7" />
<ellipse cx="1524.2" cy="375.8" rx="5" ry="3" transform="rotate(0 1524.2 375.8)" fill="#fcfefc" stroke="#000" stroke-width="1.8" />
<path d="M1499.2 380.8 L1495.8 393.3 L1500 423.3 L1504.2 425" fill="none" stroke="#000" stroke-width="2.7" />
<path d="M1496 393.7 L1501 423.3" fill="none" stroke="#000" stroke-width="3.4" />
<path d="M1498 393 L1510 401.3 L1517.5 388.3" fill="none" stroke="#000" stroke-width="2.7" />
<path d="M1510 401.7 L1503.7 423.3" fill="none" stroke="#000" stroke-width="2.7" />
<path d="M1517.5 388.3 C1517.4 389.7 1516.4 393.9 1516.7 396.7 C1516.9 399.4 1517.8 402.6 1519.2 405 C1520.6 407.4 1522.6 410 1525 410.8 C1527.4 411.7 1531.1 411.1 1533.3 410 C1535.6 408.9 1536.9 405.6 1538.3 404.2 C1539.7 402.8 1541.1 402.1 1541.7 401.7" fill="none" stroke="#000" stroke-width="2.7" />
<path d="M1541.7 401.7 L1557.5 391.7" fill="none" stroke="#000" stroke-width="2.7" />
<path d="M1510 401.7 C1510.8 403.3 1512.8 408.9 1515 411.7 C1517.2 414.4 1520.6 417.2 1523.3 418.3 C1526.1 419.4 1529.2 418.9 1531.7 418.3 C1534.2 417.8 1537.2 415.6 1538.3 415" fill="none" stroke="#000" stroke-width="2.7" />
<path d="M1549.5 370.8 C1549.9 372.4 1550.3 376.8 1551.7 380 C1553 383.2 1556.5 388.6 1557.5 390.3" fill="none" stroke="#000" stroke-width="2.7" />
<path d="M1541.7 401.7 L1557.5 391.7 L1570.8 383.3 L1588.3 393.3 L1556.7 411.7Z" fill="none" stroke="#000" stroke-width="2.7" />
<ellipse cx="1563.3" cy="398" rx="4.6" ry="2.5" transform="rotate(0 1563.3 398)" fill="#fcfefc" stroke="#000" stroke-width="1.8" />
<path d="M1588.3 393.3 C1588.9 396.9 1590.6 408.9 1591.7 415 C1592.8 421.1 1593.6 425.8 1595 430 C1596.4 434.2 1597.5 436.9 1600 440 C1602.5 443.1 1608.3 446.9 1610 448.3 L1643.3 470" fill="none" stroke="#000" stroke-width="2.7" />
<path d="M1556.7 411.7 L1550.8 423.3 L1546.7 425" fill="none" stroke="#000" stroke-width="2.7" />
<path d="M1538.3 415 L1546.7 423.3 L1561.7 446.7 L1581.7 470.3" fill="none" stroke="#000" stroke-width="4" />
<path d="M1595 439.2 L1582.5 469.7" fill="none" stroke="#000" stroke-width="2.7" />
<path d="M1521.7 438.3 L1500.8 488.3" fill="none" stroke="#000" stroke-width="2.7" />
<path d="M1504.2 425 L1583.3 471.7 L1626.7 496.7 L1700 538.3" fill="none" stroke="#000" stroke-width="2.7" />
<path d="M1504.2 425 C1503.3 427.8 1497.5 447.7 1495.8 453.3 C1494.2 459 1488 478.4 1487.5 481.7 C1487 484.9 1489.6 484.5 1490.8 485.8 C1492.1 487.2 1499.1 494.1 1500 495 L1533.3 514.2 L1593.3 548.3 L1643.3 575 L1669.2 586.7 L1672.5 580.8" fill="none" stroke="#000" stroke-width="4" />
<path d="M1643.3 470 C1648.9 473.1 1666.9 481.9 1676.7 488.3 C1686.4 494.7 1695 502.2 1701.7 508.3 C1708.3 514.4 1713.1 519.7 1716.7 525 C1720.3 530.3 1722.8 534.7 1723.3 540 C1723.9 545.3 1722.2 550.6 1720 556.7 C1717.8 562.8 1713.1 571.1 1710 576.7 C1706.9 582.2 1704.4 586.9 1701.7 590 C1698.9 593.1 1696.1 594.4 1693.3 595 C1690.6 595.6 1686.8 594.4 1685 593.3 C1683.2 592.2 1682.9 589.2 1682.5 588.3" fill="none" stroke="#000" stroke-width="2.7" />
<path d="M1690 535 C1691 535.3 1698.9 537.3 1700 538.3 C1701.1 539.3 1701.2 542.8 1700.8 545 C1700.5 547.2 1697.8 557.2 1696.7 560 C1695.6 562.8 1691.3 571.3 1690 573.3 C1688.7 575.3 1684 579.3 1683.3 580" fill="none" stroke="#000" stroke-width="4.5" />
<path d="M1690 535 L1671.7 578.3" fill="none" stroke="#000" stroke-width="2.7" />
<path d="M1695.3 537 L1680 576.7" fill="none" stroke="#000" stroke-width="2.7" />
<path d="M1683.3 580 L1696.7 590 L1693.3 595" fill="none" stroke="#000" stroke-width="2.7" />
<path d="M1672.5 580.3 L1681.7 583.7" fill="none" stroke="#000" stroke-width="2.7" />
<line x1="1562.5" y1="398" x2="1562.5" y2="472" stroke="#000" stroke-width="2.7" stroke-dasharray="14 3 5 3"/>
<path d="M1562.5 472 L1505 503.5" fill="none" stroke="#000" stroke-width="2.7" />
<path d="M1501.5 505.5 L1491.5 511" fill="none" stroke="#000" stroke-width="2.7" />
<path d="M1488 513 L1401.5 563.9" fill="none" stroke="#000" stroke-width="2.7" />
<path d="M1398.5 565.7 L1387.5 572.2" fill="none" stroke="#000" stroke-width="2.7" />
<path d="M1384.5 573.9 L1314 615.4 L1314 665" fill="none" stroke="#000" stroke-width="2.7" />
<line x1="1478.5" y1="520" x2="1478.5" y2="598" stroke="#000" stroke-width="2.7" />
<path d="M1676.7 585 L1667.5 608.3" fill="none" stroke="#000" stroke-width="2.7" stroke-dasharray="12 3"/>
<path d="M1425.4 576.9 L1437.4 568.3 L1451.2 575.1 L1454.6 578.6 L1461.4 586.3 L1468.3 591.4 L1476 591.4 L1467.4 597.4 L1458 602.6 L1447.7 608.6 L1443.4 615.4 L1443.4 620.6 L1450.3 624 L1450.3 628.3 L1440.9 633.4 L1398.9 608.6 L1398.9 606 L1406.6 600.9 L1413.4 603.8 L1420.3 606 L1427.2 606 L1437.4 596.6 L1443.4 589.7 L1440.9 587.1 L1430.6 582Z" fill="#fcfefc" stroke="#000" stroke-width="2.4" />
<path d="M1454.6 578.6 L1440.9 587.1" fill="none" stroke="#000" stroke-width="2.7" />
<ellipse cx="1438.3" cy="576" rx="2.4" ry="2" transform="rotate(0 1438.3 576)" fill="#fcfefc" stroke="#000" stroke-width="1.6" />
<path d="M1467.4 597.4 L1480.3 590.6 L1491.4 598.3 L1490.6 603.4 L1478.6 610.3 L1468.3 603.4Z" fill="#000" stroke="#000" stroke-width="2.4" />
<path d="M1470 597.9 L1480.3 592.8 L1488.9 598.6 L1478.6 604.3Z" fill="#fcfefc" stroke="none" stroke-width="0" />
<ellipse cx="1478.1" cy="599.3" rx="3.6" ry="2.6" transform="rotate(0 1478.1 599.3)" fill="#000" stroke="#000" stroke-width="2" />
<path d="M1439.2 620.6 C1439.4 619.7 1439.4 617.4 1440.9 615.4 C1442.3 613.4 1444.9 610.7 1447.7 608.6 C1450.6 606.4 1454.7 604.4 1458 602.6 C1461.3 600.7 1465.9 598.3 1467.4 597.4" fill="none" stroke="#000" stroke-width="3.4" />
<path d="M1406.6 601.7 L1439.2 620.6" fill="none" stroke="#000" stroke-width="2.7" />
<path d="M1425.4 610.3 L1436.6 616.3" fill="none" stroke="#000" stroke-width="2.7" />
<ellipse cx="1441.7" cy="626.6" rx="4" ry="2.6" transform="rotate(0 1441.7 626.6)" fill="#fcfefc" stroke="#000" stroke-width="2.2" />
<ellipse cx="1407.4" cy="605.1" rx="3.4" ry="2.2" transform="rotate(0 1407.4 605.1)" fill="#fcfefc" stroke="#000" stroke-width="2" />
<line x1="1440.9" y1="633.5" x2="1440.9" y2="667" stroke="#000" stroke-width="3.3000000000000003" />
<rect x="1436.6" y="667" width="9.4" height="20" rx="2" fill="#000"/>
<rect x="1439.8" y="671" width="3" height="8" rx="1.2" fill="#fcfefc"/>
<path d="M1433.5 687 Q1441.5 682 1450 687 L1450 692 Q1447 700.5 1441.5 700.5 Q1436 700.5 1433.5 692Z" fill="#000"/>
<ellipse cx="1441.5" cy="694.5" rx="4.2" ry="3" transform="rotate(0 1441.5 694.5)" fill="#fcfefc" stroke="none" stroke-width="0" />
<rect x="1439" y="685.5" width="4.5" height="3" fill="#fcfefc"/>
<ellipse cx="1313.1" cy="674" rx="10" ry="6.6" transform="rotate(0 1313.1 674)" fill="#fcfefc" stroke="#000" stroke-width="2.4" />
<path d="M1306 672.5 C1306.5 671.9 1307.5 669.7 1309 669 C1310.5 668.3 1313.3 668.2 1315 668.5 C1316.7 668.8 1318.3 670.6 1319 671" fill="none" stroke="#000" stroke-width="2.4" />
<path d="M1305 676 C1305.8 676.6 1308 679 1310 679.5 C1312 680 1315.2 679.7 1317 679 C1318.8 678.3 1320.3 676.1 1321 675.5" fill="none" stroke="#000" stroke-width="1.8" />
<path d="M1304 699 L1308.5 695 L1317 695 L1321.5 699 L1321.5 707 L1317 711 L1308 711 L1304 707Z" fill="#fcfefc" stroke="#000" stroke-width="2.8" />
<ellipse cx="1312.8" cy="699.8" rx="5.6" ry="2.8" transform="rotate(0 1312.8 699.8)" fill="#fcfefc" stroke="#000" stroke-width="2" />
<path d="M1308 702 L1308 710" fill="none" stroke="#000" stroke-width="1.6" />
<path d="M1317.5 702 L1317.5 710" fill="none" stroke="#000" stroke-width="1.6" />
<path d="M1637.9 614.3 L1642.9 611.4 L1651.4 612.1 L1654.3 608.6 L1660 610 L1662.9 613.6 L1673.6 612.1 L1675 615 L1667.9 618.6 L1661.4 617.9 L1657.9 620.7Z" fill="#fcfefc" stroke="#000" stroke-width="2.7" />
<path d="M1657.9 620.7 L1661.4 620 L1651.4 651.7 L1648.6 652.9Z" fill="#fcfefc" stroke="#000" stroke-width="2.7" />
<path d="M1644.3 657.1 L1654.3 656.4 L1663.6 660.7 L1662.9 663.6 L1644.3 671.4 L1640 672.1Z" fill="#fcfefc" stroke="#000" stroke-width="2.7" />
<path d="M1645 665 L1658.6 660" fill="none" stroke="#000" stroke-width="2.7" />
<ellipse cx="1647.9" cy="661.4" rx="2.6" ry="1.8" transform="rotate(0 1647.9 661.4)" fill="#fcfefc" stroke="#000" stroke-width="1.6" />
<path d="M1637.9 614.3 L1619.3 661.4 L1621.4 665.7 L1640 672.1 L1657.9 620.7Z" fill="#fcfefc" stroke="#000" stroke-width="2.6" />
<path d="M1641.4 675.7 L1635.7 691.7" fill="none" stroke="#000" stroke-width="2.7" stroke-dasharray="9 3"/>
<path d="M1635.4 695 L1632.1 704.3 L1629.3 712.9 L1625.7 718.6 L1629.3 720.7 L1632.9 712.9 L1634.3 704.3Z" fill="#000" stroke="#000" stroke-width="1.5" />
<line x1="1630.1" y1="702.4" x2="1635.6" y2="704.4" stroke="#000" stroke-width="1" stroke="#fcfefc"/>
<line x1="1628.8" y1="706.1" x2="1634.3" y2="708.1" stroke="#000" stroke-width="1" stroke="#fcfefc"/>
<line x1="1627.5" y1="709.8" x2="1633" y2="711.8" stroke="#000" stroke-width="1" stroke="#fcfefc"/>
<line x1="1626.2" y1="713.5" x2="1631.7" y2="715.5" stroke="#000" stroke-width="1" stroke="#fcfefc"/>
<line x1="1624.9" y1="717.2" x2="1630.4" y2="719.2" stroke="#000" stroke-width="1" stroke="#fcfefc"/>
<ellipse cx="1625.7" cy="725.7" rx="8.5" ry="6" transform="rotate(20 1625.7 725.7)" fill="#fcfefc" stroke="#000" stroke-width="2.4" />
<ellipse cx="1626.7" cy="722.7" rx="5.5" ry="3.5" transform="rotate(20 1626.7 722.7)" fill="#000" stroke="none" stroke-width="0" />
<ellipse cx="1624.7" cy="728.2" rx="4.5" ry="2" transform="rotate(20 1624.7 728.2)" fill="#fcfefc" stroke="#000" stroke-width="1.4" />
<text transform="translate(1005.5 69) scale(0.78 1)" font-family="'Liberation Sans', Arial, sans-serif" font-size="48" font-weight="normal" text-anchor="middle" fill="#000" style="font-kerning:none" stroke="#000" stroke-width="0.7" vector-effect="non-scaling-stroke">23</text>
<text transform="translate(930.8 92) scale(0.78 1)" font-family="'Liberation Sans', Arial, sans-serif" font-size="48" font-weight="normal" text-anchor="middle" fill="#000" style="font-kerning:none" stroke="#000" stroke-width="0.7" vector-effect="non-scaling-stroke">4</text>
<text transform="translate(885 107.6) scale(0.78 1)" font-family="'Liberation Sans', Arial, sans-serif" font-size="48" font-weight="normal" text-anchor="middle" fill="#000" style="font-kerning:none" stroke="#000" stroke-width="0.7" vector-effect="non-scaling-stroke">5</text>
<text transform="translate(833 128.6) scale(0.78 1)" font-family="'Liberation Sans', Arial, sans-serif" font-size="48" font-weight="normal" text-anchor="middle" fill="#000" style="font-kerning:none" stroke="#000" stroke-width="0.7" vector-effect="non-scaling-stroke">6</text>
<text transform="translate(786.8 155.4) scale(0.78 1)" font-family="'Liberation Sans', Arial, sans-serif" font-size="48" font-weight="normal" text-anchor="middle" fill="#000" style="font-kerning:none" stroke="#000" stroke-width="0.7" vector-effect="non-scaling-stroke">7</text>
<text transform="translate(659 186) scale(0.78 1)" font-family="'Liberation Sans', Arial, sans-serif" font-size="48" font-weight="normal" text-anchor="middle" fill="#000" style="font-kerning:none" stroke="#000" stroke-width="0.7" vector-effect="non-scaling-stroke">2</text>
<text transform="translate(519.4 296.6) scale(0.78 1)" font-family="'Liberation Sans', Arial, sans-serif" font-size="48" font-weight="normal" text-anchor="middle" fill="#000" style="font-kerning:none" stroke="#000" stroke-width="0.7" vector-effect="non-scaling-stroke">11</text>
<rect x="499.62" y="292" width="7.72" height="6" fill="#fcfefc"/>
<rect x="511.96" y="292" width="7.40" height="6" fill="#fcfefc"/>
<rect x="520.45" y="292" width="7.72" height="6" fill="#fcfefc"/>
<rect x="532.78" y="292" width="7.40" height="6" fill="#fcfefc"/>
<text transform="translate(447.3 346.4) scale(0.78 1)" font-family="'Liberation Sans', Arial, sans-serif" font-size="48" font-weight="normal" text-anchor="middle" fill="#000" style="font-kerning:none" stroke="#000" stroke-width="0.7" vector-effect="non-scaling-stroke">12</text>
<rect x="427.52" y="342" width="7.72" height="5" fill="#fcfefc"/>
<rect x="439.86" y="342" width="7.40" height="5" fill="#fcfefc"/>
<text transform="translate(396.8 501.2) scale(0.78 1)" font-family="'Liberation Sans', Arial, sans-serif" font-size="48" font-weight="normal" text-anchor="middle" fill="#000" style="font-kerning:none" stroke="#000" stroke-width="0.7" vector-effect="non-scaling-stroke">9</text>
<text transform="translate(349.3 568.6) scale(0.78 1)" font-family="'Liberation Sans', Arial, sans-serif" font-size="48" font-weight="normal" text-anchor="middle" fill="#000" style="font-kerning:none" stroke="#000" stroke-width="0.7" vector-effect="non-scaling-stroke">13</text>
<rect x="329.52" y="564" width="7.72" height="6" fill="#fcfefc"/>
<rect x="341.86" y="564" width="7.40" height="6" fill="#fcfefc"/>
<text transform="translate(174.6 707) scale(0.78 1)" font-family="'Liberation Sans', Arial, sans-serif" font-size="48" font-weight="normal" text-anchor="middle" fill="#000" style="font-kerning:none" stroke="#000" stroke-width="0.7" vector-effect="non-scaling-stroke">1</text>
<rect x="165.23" y="702" width="7.72" height="6" fill="#fcfefc"/>
<rect x="177.57" y="702" width="7.40" height="6" fill="#fcfefc"/>
<text transform="translate(286.4 770) scale(0.78 1)" font-family="'Liberation Sans', Arial, sans-serif" font-size="48" font-weight="normal" text-anchor="middle" fill="#000" style="font-kerning:none" stroke="#000" stroke-width="0.7" vector-effect="non-scaling-stroke">15</text>
<rect x="266.62" y="765" width="7.72" height="6" fill="#fcfefc"/>
<rect x="278.96" y="765" width="7.40" height="6" fill="#fcfefc"/>
<text transform="translate(239.2 866.7) scale(0.78 1)" font-family="'Liberation Sans', Arial, sans-serif" font-size="48" font-weight="normal" text-anchor="middle" fill="#000" style="font-kerning:none" stroke="#000" stroke-width="0.7" vector-effect="non-scaling-stroke">16</text>
<rect x="219.42" y="862" width="7.72" height="6" fill="#fcfefc"/>
<rect x="231.76" y="862" width="7.40" height="6" fill="#fcfefc"/>
<text transform="translate(224.4 922.9) scale(0.78 1)" font-family="'Liberation Sans', Arial, sans-serif" font-size="48" font-weight="normal" text-anchor="middle" fill="#000" style="font-kerning:none" stroke="#000" stroke-width="0.7" vector-effect="non-scaling-stroke">17</text>
<rect x="204.62" y="918" width="7.72" height="6" fill="#fcfefc"/>
<rect x="216.96" y="918" width="7.40" height="6" fill="#fcfefc"/>
<text transform="translate(197.7 996.7) scale(0.78 1)" font-family="'Liberation Sans', Arial, sans-serif" font-size="48" font-weight="normal" text-anchor="middle" fill="#000" style="font-kerning:none" stroke="#000" stroke-width="0.7" vector-effect="non-scaling-stroke">18</text>
<rect x="177.92" y="992" width="7.72" height="6" fill="#fcfefc"/>
<rect x="190.26" y="992" width="7.40" height="6" fill="#fcfefc"/>
<text transform="translate(636.2 928.3) scale(0.78 1)" font-family="'Liberation Sans', Arial, sans-serif" font-size="48" font-weight="normal" text-anchor="middle" fill="#000" style="font-kerning:none" stroke="#000" stroke-width="0.7" vector-effect="non-scaling-stroke">35</text>
<rect x="1267" y="127.3" width="488" height="647.7" fill="none" stroke="#000" stroke-width="3.8" stroke-linejoin="miter"/>
<line x1="1226" y1="407.5" x2="1266" y2="407.5" stroke="#000" stroke-width="4.6" />
<text transform="translate(1200.8 421) scale(1 1)" font-family="'Liberation Sans', Arial, sans-serif" font-size="39.5" font-weight="normal" text-anchor="middle" fill="#000" style="font-kerning:none" stroke="#000" stroke-width="0.5">29</text>
<text transform="translate(1509.8 107.3) scale(1 1)" font-family="'Liberation Sans', Arial, sans-serif" font-size="37.6" font-weight="bold" text-anchor="middle" fill="#000" style="font-kerning:none" letter-spacing="0.6">441-37587-00 Guard Kit</text>
<text transform="translate(1658.3 183.3) scale(0.8 1)" font-family="'Liberation Sans', Arial, sans-serif" font-size="37.5" font-weight="normal" text-anchor="middle" fill="#000" style="font-kerning:none" >26</text>
<text transform="translate(1660 248) scale(0.8 1)" font-family="'Liberation Sans', Arial, sans-serif" font-size="37.5" font-weight="normal" text-anchor="middle" fill="#000" style="font-kerning:none" >28</text>
<text transform="translate(1524.5 643.7) scale(0.8 1)" font-family="'Liberation Sans', Arial, sans-serif" font-size="37.5" font-weight="normal" text-anchor="middle" fill="#000" style="font-kerning:none" >30</text>
<text transform="translate(1570.3 660) scale(0.8 1)" font-family="'Liberation Sans', Arial, sans-serif" font-size="37.5" font-weight="normal" text-anchor="middle" fill="#000" style="font-kerning:none" >32</text>
<text transform="translate(1541 730.7) scale(0.8 1)" font-family="'Liberation Sans', Arial, sans-serif" font-size="37.5" font-weight="normal" text-anchor="middle" fill="#000" style="font-kerning:none" >34</text>
<text transform="translate(1511.6 693.4) scale(0.8 1)" font-family="'Liberation Sans', Arial, sans-serif" font-size="37.5" font-weight="normal" text-anchor="middle" fill="#000" style="font-kerning:none" >38</text>
<text transform="translate(1370.4 687.4) scale(0.8 1)" font-family="'Liberation Sans', Arial, sans-serif" font-size="37.5" font-weight="normal" text-anchor="middle" fill="#000" style="font-kerning:none" >41</text>
<rect x="1370.88" y="684" width="6.77" height="4" fill="#fcfefc"/>
<rect x="1380.90" y="684" width="6.51" height="4" fill="#fcfefc"/>
<text transform="translate(1374 718.3) scale(0.8 1)" font-family="'Liberation Sans', Arial, sans-serif" font-size="37.5" font-weight="normal" text-anchor="middle" fill="#000" style="font-kerning:none" >40</text>
<text transform="translate(1310.9 316.6) scale(0.78 1)" font-family="'Liberation Sans', Arial, sans-serif" font-size="42.3" font-weight="normal" text-anchor="middle" fill="#000" style="font-kerning:none" >37</text>
<line x1="1568" y1="170" x2="1635.3" y2="170" stroke="#000" stroke-width="2.6" />
<line x1="1579.3" y1="234" x2="1638.7" y2="234" stroke="#000" stroke-width="2.6" />
<line x1="1333.3" y1="303" x2="1399.7" y2="303" stroke="#000" stroke-width="2.6" />
<path d="M1513.3 289.2 L1399.7 289.2 L1399.7 324.2 L1510.8 324.2" fill="none" stroke="#000" stroke-width="2.6" />
<line x1="1450.3" y1="628.3" x2="1504.3" y2="628.3" stroke="#000" stroke-width="2.6" />
<line x1="1446" y1="680.6" x2="1494" y2="680.6" stroke="#000" stroke-width="2.6" />
<line x1="1324.3" y1="674.6" x2="1348.3" y2="674.6" stroke="#000" stroke-width="2.6" />
<line x1="1321.7" y1="703.7" x2="1350.9" y2="703.7" stroke="#000" stroke-width="2.6" />
<line x1="1586.4" y1="645.7" x2="1623.6" y2="645.7" stroke="#000" stroke-width="2.6" />
<line x1="1562.1" y1="720.3" x2="1620" y2="720.3" stroke="#000" stroke-width="2.6" />
<text x="1510.3" y="812.7" font-family="'Liberation Sans', Arial, sans-serif" font-size="30" text-anchor="middle" letter-spacing="0.8" word-spacing="2.4">This guard kit is designed to fit</text>
<text x="1509.4" y="850.5" font-family="'Liberation Sans', Arial, sans-serif" font-size="30" text-anchor="middle" letter-spacing="0.8" word-spacing="3.8">all trimmers with 24 or 26 mm</text>
<text x="1510.8" y="887.8" font-family="'Liberation Sans', Arial, sans-serif" font-size="30" text-anchor="middle" letter-spacing="0.8" word-spacing="3.0">pipes. This guard is <tspan font-weight="bold">NOT</tspan></text>
<text x="1514.7" y="925.4" font-family="'Liberation Sans', Arial, sans-serif" font-size="30" text-anchor="middle" letter-spacing="0.8" word-spacing="4.6">approved for use with any</text>
<text x="1509.4" y="963.8" font-family="'Liberation Sans', Arial, sans-serif" font-size="30" text-anchor="middle" letter-spacing="0.8" word-spacing="11">metal blade.</text>
<text transform="translate(1640.5 1034) scale(1.17 1)" font-family="'Liberation Serif', 'Times New Roman', serif" font-size="33" fill="#4a6ab5">m</text>
<text transform="translate(1671.3 1034) scale(1.17 1)" font-family="'Liberation Serif', 'Times New Roman', serif" font-size="33" fill="#4cb04a">o</text>
<text transform="translate(1690.3 1034) scale(1.17 1)" font-family="'Liberation Serif', 'Times New Roman', serif" font-size="33" fill="#ee6bb0">t</text>
<text transform="translate(1702 1034) scale(1.17 1)" font-family="'Liberation Serif', 'Times New Roman', serif" font-size="33" fill="#2aa650">o</text>
<text transform="translate(1722 1034) scale(1.17 1)" font-family="'Liberation Serif', 'Times New Roman', serif" font-size="33" fill="#ee5a22">r</text>
<text transform="translate(1735.5 1034) scale(1.17 1)" font-family="'Liberation Serif', 'Times New Roman', serif" font-size="33" fill="#f3a020">u</text>
<text transform="translate(1755 1034) scale(1.17 1)" font-family="'Liberation Serif', 'Times New Roman', serif" font-size="33" fill="#f6cf1e">f</text>
<text x="1769" y="1034" font-family="'Liberation Sans', Arial, sans-serif" font-size="14.5" fill="#333">.de</text>
<circle cx="1774" cy="1010.5" r="0.8" fill="#888"/>
</svg></body></html>
